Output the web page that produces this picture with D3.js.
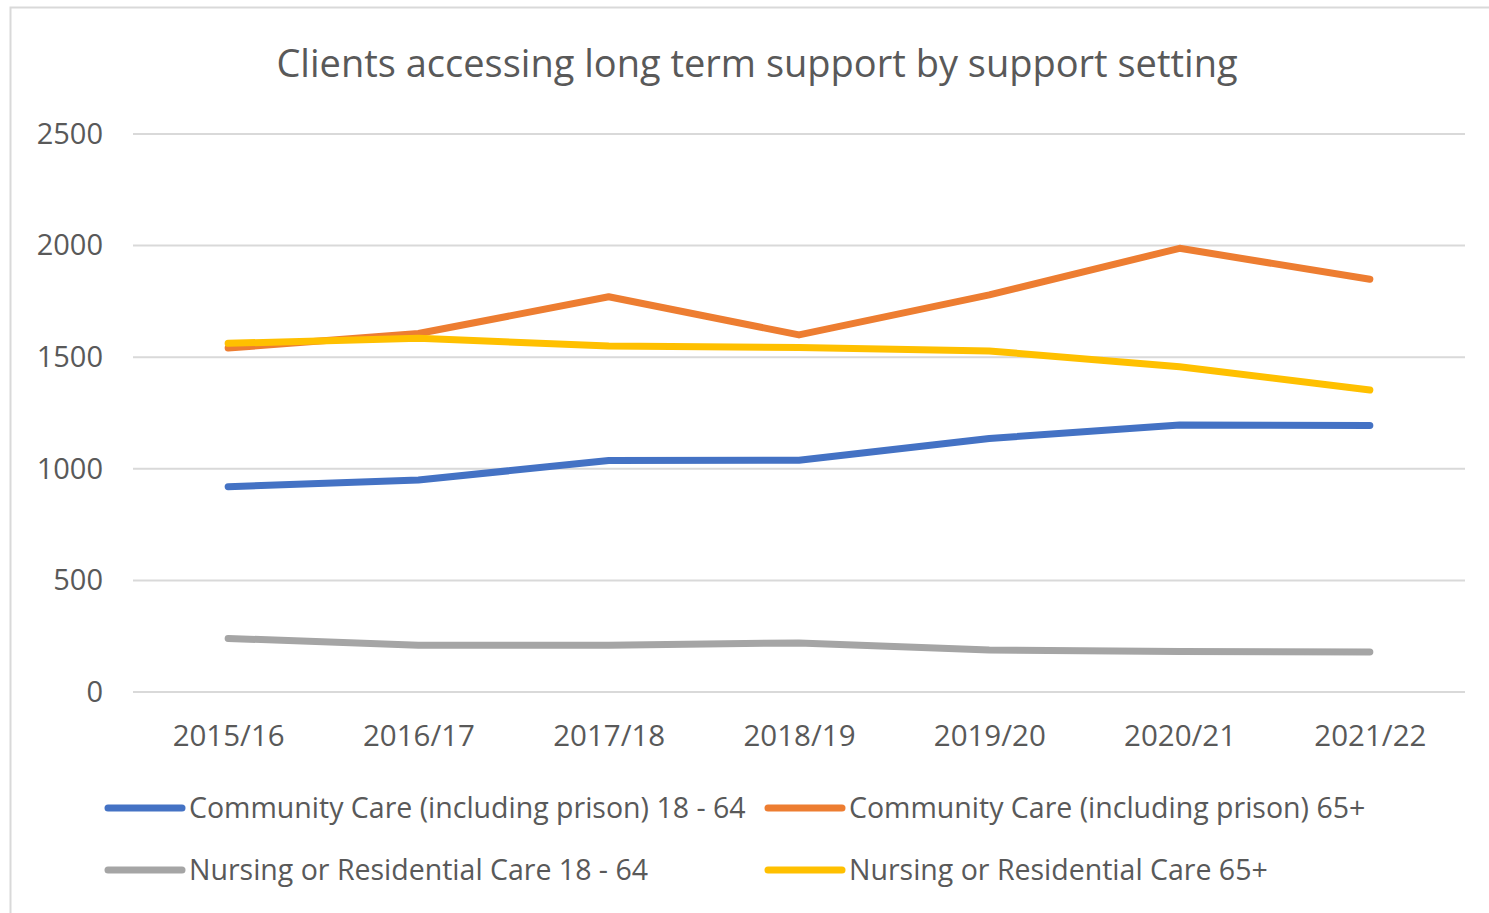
<!DOCTYPE html>
<html>
<head>
	<meta charset="utf-8">
	<script src="https://d3js.org/d3.v7.min.js"></script>
	<title>Clients accessing long term support</title>
	<style>
		body { margin: 0; background: #fff; }
		text { font-family: "Open Sans", "Noto Sans", sans-serif; fill: #595959; }
	</style>
</head>
<body>
	<div id="chart"></div>

	<script type="text/javascript">

		// data
		var years = ["2015/16", "2016/17", "2017/18", "2018/19", "2019/20", "2020/21", "2021/22"];
		var community1864 = [920, 950, 1037, 1038, 1136, 1196, 1194];
		var community65 = [1541, 1606, 1771, 1600, 1779, 1988, 1849];
		var nursing1864 = [240, 210, 210, 220, 188, 181, 179];
		var nursing65 = [1562, 1585, 1550, 1543, 1528, 1457, 1353];
		var yTicks = [0, 500, 1000, 1500, 2000, 2500];

		var seriesNames = ["Community Care (including prison) 18 - 64",
			"Community Care (including prison) 65+",
			"Nursing or Residential Care 18 - 64",
			"Nursing or Residential Care 65+"];
		var seriesValues = [community1864, community65, nursing1864, nursing65];
		var seriesColors = ["#4472C4", "#ED7D31", "#A5A5A5", "#FFC000"];

		var svgwidth = 1489;
		var svgheight = 913;

		var svg = d3.select("#chart").append("svg")
			.attr("width", svgwidth)
			.attr("height", svgheight);

		// chart border
		svg.append("rect")
			.attr("x", 10.5).attr("y", 7.5)
			.attr("width", 1500).attr("height", 920)
			.attr("fill", "none")
			.attr("stroke", "#d9d9d9")
			.attr("stroke-width", 2);

		svg.append("text")
			.attr("x", 757).attr("y", 77)
			.attr("text-anchor", "middle")
			.attr("font-size", 38)
			.text("Clients accessing long term support by support setting");

		var xScale = d3.scalePoint()
			.domain(years)
			.range([133, 1465])
			.padding(0.5);

		var yScale = d3.scaleLinear()
			.domain([0, 2500])
			.range([692, 134]);

		// gridlines
		svg.append("g").selectAll("line")
			.data(yTicks).enter().append("line")
			.attr("x1", 133).attr("x2", 1465)
			.attr("y1", function(d){ return yScale(d); })
			.attr("y2", function(d){ return yScale(d); })
			.attr("stroke", "#d9d9d9")
			.attr("stroke-width", 2);

		var yAxis = d3.axisLeft(yScale).tickValues(yTicks)
			.tickFormat(d3.format("d")).tickSize(0).tickPadding(0);
		var gy = svg.append("g")
			.attr("transform", "translate(103,0)")
			.call(yAxis);
		gy.select(".domain").remove();
		gy.selectAll("text")
			.attr("font-size", 29)
			.attr("font-family", null)
			.attr("fill", "#595959");

		var xAxis = d3.axisBottom(xScale).tickSize(0).tickPadding(0);
		var gx = svg.append("g")
			.attr("transform", "translate(0,725)")
			.call(xAxis);
		gx.select(".domain").remove();
		gx.selectAll("text")
			.attr("font-size", 29.5)
			.attr("font-family", null)
			.attr("fill", "#595959");

		var line = d3.line()
			.x(function(d, i){ return xScale(years[i]); })
			.y(function(d){ return yScale(d); });

		svg.append("g").selectAll("path")
			.data(seriesValues).enter().append("path")
			.attr("d", line)
			.attr("fill", "none")
			.attr("stroke", function(d, i){ return seriesColors[i]; })
			.attr("stroke-width", 7)
			.attr("stroke-linecap", "round")
			.attr("stroke-linejoin", "round");

		// legend, two per row
		var legend = svg.append("g").selectAll("g")
			.data(seriesNames).enter().append("g")
			.attr("transform", function(d, i){
				return "translate(" + (i % 2 == 0 ? 108 : 768) + "," + (i < 2 ? 808 : 870) + ")";
			});

		legend.append("line")
			.attr("x1", 0).attr("x2", 74)
			.attr("y1", 0).attr("y2", 0)
			.attr("stroke", function(d, i){ return seriesColors[i]; })
			.attr("stroke-width", 7)
			.attr("stroke-linecap", "round");

		legend.append("text")
			.attr("x", 81).attr("y", 0)
			.attr("dy", "0.35em")
			.attr("font-size", 28.5)
			.text(function(d){ return d; });

	</script>
</body>
</html>
